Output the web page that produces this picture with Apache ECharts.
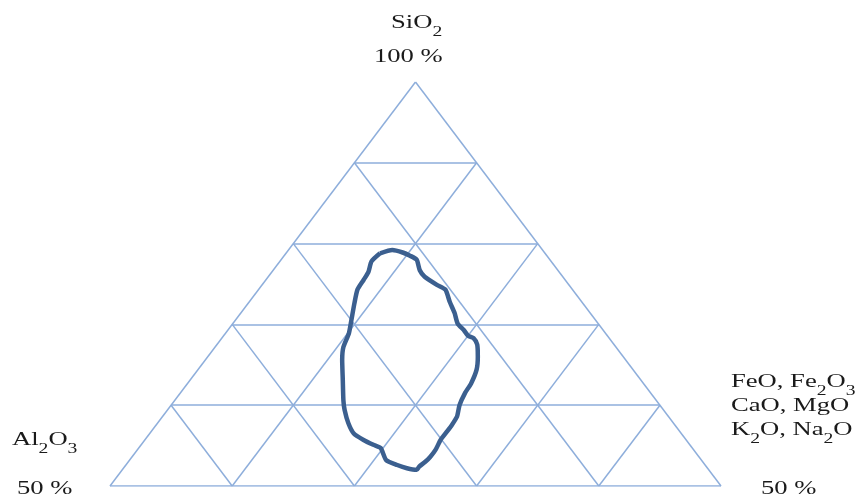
<!DOCTYPE html>
<html>
<head>
<meta charset="utf-8">
<script src="https://cdn.jsdelivr.net/npm/echarts@6/dist/echarts.min.js"></script>
<style>
  html, body { margin: 0; padding: 0; background: #fff; }
  #main { width: 868px; height: 497px; }
</style>
</head>
<body>
<div id="main"></div>
<script>
// ticks of the ternary grid, in %
var sioTicks = [50, 60, 70, 80, 90, 100];
var oxTicks = [0, 10, 20, 30, 40, 50];

// outline of the field (SiO2 %, FeO+Fe2O3+CaO+MgO+K2O+Na2O %)
var fieldSiO2 = [78.8, 79.2, 78.9, 78.5, 78.0, 76.7, 75.9, 74.9, 74.3, 72.8,
  71.4, 70.1, 69.3, 68.6, 68.3, 67.5, 66.0, 64.4, 62.7, 61.5,
  60.0, 58.6, 57.5, 56.7, 55.7, 54.5, 53.6, 53.0, 52.4, 52.0,
  52.2, 52.6, 53.2, 54.7, 55.1, 55.7, 56.5, 57.8, 59.4, 60.6,
  63.1, 65.6, 67.2, 68.9, 70.5, 72.6, 74.3, 75.5, 76.5, 77.8];
var fieldFe = [7.7, 8.5, 9.5, 10.3, 11.1, 12.0, 12.8, 14.3, 15.3, 16.4,
  17.5, 18.4, 19.3, 20.0, 20.6, 21.3, 22.1, 22.8, 23.2, 23.3,
  23.6, 24.1, 24.2, 24.2, 24.2, 24.4, 24.4, 24.3, 24.1, 24.1,
  23.2, 22.2, 21.0, 19.8, 19.0, 17.9, 16.7, 15.6, 14.5, 13.8,
  12.5, 11.2, 10.5, 10.1, 9.5, 8.7, 8.1, 8.0, 7.9, 7.5];

// ternary -> plane: x runs 0..50 along the base, y is SiO2
function tern(si, fe) {
  return [fe + (si - 50) / 2, si];
}

var gridLines = [];
for (var i = 0; i < sioTicks.length - 1; i++) {
  var s = sioTicks[i];
  gridLines.push({coords: [tern(s, 0), tern(s, 100 - s)]});
}
for (var i = 0; i < oxTicks.length - 1; i++) {
  var f = oxTicks[i];
  // constant Fe group
  gridLines.push({coords: [tern(50, f), tern(100 - f, f)]});
  // constant Al2O3
  gridLines.push({coords: [tern(50, 50 - f), tern(100 - f, 0)]});
}

var field = [];
for (var i = 0; i < fieldSiO2.length; i++) {
  field.push(tern(fieldSiO2[i], fieldFe[i]));
}
field.push(field[0]);

var chart = echarts.init(document.getElementById('main'));

var txtFont = '"Liberation Serif", "DejaVu Serif", serif';
var rich = {
  n: {fontSize: 19, fontFamily: txtFont, color: '#1a1a1a', lineHeight: 24, verticalAlign: 'middle'},
  s: {fontSize: 14, fontFamily: txtFont, color: '#1a1a1a', lineHeight: 14, verticalAlign: 'bottom', padding: [0, 0, -4, 0]}
};
// the picture is stretched sideways, so the text is too
function label(x, y, text) {
  return {
    type: 'text', x: x, y: y, scaleX: 1.4,
    style: {
      text: text, rich: rich, align: 'left', verticalAlign: 'top',
      fontSize: 19, fontFamily: txtFont, fill: '#1a1a1a', lineHeight: 24
    }
  };
}

chart.setOption({
  animation: false,
  grid: {left: 110, right: 147, top: 82, bottom: 11},
  xAxis: {type: 'value', min: 0, max: 50, show: false},
  yAxis: {type: 'value', min: 50, max: 100, show: false},
  graphic: [
    label(391, 11, '{n|SiO}{s|2}'),
    label(374, 45, '100 %'),
    label(12, 428, '{n|Al}{s|2}{n|O}{s|3}'),
    label(17, 477, '50 %'),
    label(731, 370, '{n|FeO, Fe}{s|2}{n|O}{s|3}'),
    label(731, 394, '{n|CaO, MgO}'),
    label(731, 418, '{n|K}{s|2}{n|O, Na}{s|2}{n|O}'),
    label(761, 477, '50 %')
  ],
  series: [
    {
      type: 'lines',
      coordinateSystem: 'cartesian2d',
      silent: true,
      lineStyle: {color: '#8eaedb', width: 1.5, opacity: 1},
      data: gridLines
    },
    {
      type: 'line',
      data: field,
      symbol: 'none',
      smooth: 0.2,
      silent: true,
      lineStyle: {color: '#3b5f8f', width: 4.5}
    }
  ]
});
</script>
</body>
</html>
